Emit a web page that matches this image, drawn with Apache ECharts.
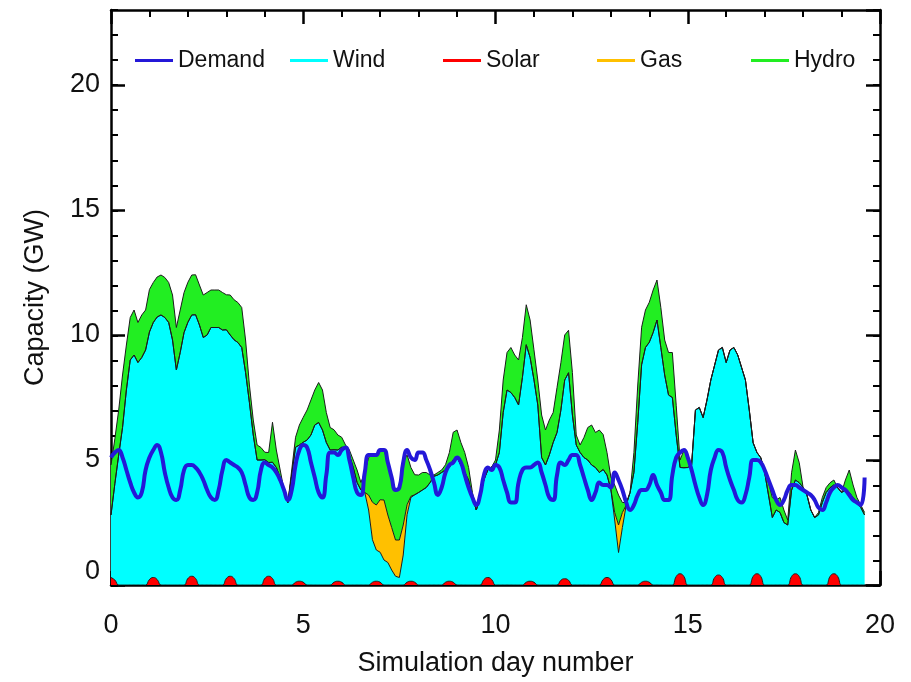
<!DOCTYPE html>
<html>
<head>
<meta charset="utf-8">
<script src="https://cdn.jsdelivr.net/npm/echarts@6/dist/echarts.min.js"></script>
<style>
  html, body { margin: 0; padding: 0; background: #fff; }
  #chart { width: 911px; height: 682px; }
</style>
</head>
<body>
<div id="chart"></div>
<script>
// samples every 0.1 simulation day, 0 .. 19.6
var demand = [
  5.1,5.3,5.4,5.1,4.6,4.1,3.7,3.5,3.7,4.6,
  5.1,5.4,5.6,5.3,4.5,3.9,3.5,3.4,3.8,4.6,
  4.8,4.8,4.7,4.5,4.2,3.8,3.5,3.4,3.8,4.6,
  5.0,4.9,4.8,4.7,4.5,4.0,3.5,3.4,3.7,4.6,
  4.9,4.8,4.7,4.5,4.2,3.8,3.4,3.8,4.8,5.4,
  5.6,5.5,4.9,4.3,3.7,3.5,4.4,5.3,5.3,5.2,
  5.4,5.5,5.0,4.3,3.7,3.6,4.5,5.2,5.2,5.2,
  5.4,5.4,4.9,4.3,3.8,3.9,4.9,5.4,5.1,5.0,
  5.3,5.3,5.0,4.6,4.1,3.6,3.9,4.5,4.8,4.9,
  5.1,4.9,4.4,3.9,3.5,3.2,3.6,4.4,4.7,4.6,
  4.8,4.7,4.2,3.7,3.3,3.3,4.1,4.6,4.7,4.7,
  4.8,4.9,4.5,4.0,3.5,3.4,4.4,4.9,4.8,5.0,
  5.2,5.2,4.8,4.3,3.8,3.4,3.7,4.1,4.0,4.0,
  3.9,4.5,4.2,3.8,3.3,3.0,3.2,3.6,3.8,3.8,
  4.0,4.4,4.0,3.7,3.4,3.4,4.4,5.1,5.3,5.4,
  5.1,4.6,4.0,3.5,3.2,3.6,4.6,5.1,5.4,5.3,
  4.7,4.2,3.8,3.4,3.3,3.6,4.3,5.0,5.0,4.9,
  4.6,4.2,3.8,3.4,3.2,3.4,3.8,4.0,4.0,3.9,
  3.8,3.7,3.6,3.4,3.1,3.0,3.3,3.7,3.9,4.0,
  3.9,3.8,3.6,3.4,3.3,3.2,4.3
];

var solar = [
  .3,.2,0,0,0,0,0,0,0,0,
  .22,.3,.22,0,0,0,0,0,0,0,
  .26,.35,.26,0,0,0,0,0,0,0,
  .26,.35,.26,0,0,0,0,0,0,0,
  .26,.35,.26,0,0,0,0,0,.11,.15,
  .11,0,0,0,0,0,0,0,.11,.15,
  .11,0,0,0,0,0,0,0,.11,.15,
  .11,0,0,0,0,0,0,.11,.15,.11,
  0,0,0,0,0,0,0,.11,.15,.11,
  0,0,0,0,0,0,0,.22,.3,.22,
  0,0,0,0,0,0,0,0,.11,.15,
  .11,0,0,0,0,0,0,.19,.25,.19,
  0,0,0,0,0,0,0,0,.22,.3,
  .22,0,0,0,0,0,0,0,.11,.15,
  .11,0,0,0,0,0,0,.34,.45,.34,
  0,0,0,0,0,0,0,.3,.4,.3,
  0,0,0,0,0,0,0,.34,.45,.34,
  0,0,0,0,0,0,0,.34,.45,.34,
  0,0,0,0,0,0,0,.34,.45,.34,
  0,0,0,0,0,0,0
];

var wind = [
  2.5,3.85,5.2,6.3,7.8,9.0,9.2,8.9,9.1,9.4,
  9.9,10.2,10.5,10.8,10.7,10.5,9.8,8.6,9.3,10.1,
  10.25,10.45,10.55,10.4,9.9,10.0,10.3,10.3,10.3,10.2,
  9.95,9.65,9.55,9.7,9.5,8.5,7.3,6.0,5.0,5.0,
  4.75,4.55,4.65,4.7,4.3,3.8,3.3,4.4,5.4,5.45,
  5.6,5.8,6.0,6.4,6.5,6.2,5.7,5.4,5.3,5.25,
  5.4,5.5,5.2,4.7,4.1,3.8,3.7,3.0,1.7,1.25,
  1.2,1.0,0.9,0.6,0.35,0.3,1.2,2.7,3.35,3.5,
  3.7,3.8,3.9,4.1,4.35,4.4,4.5,4.5,4.55,4.9,
  5.1,4.8,4.5,4.2,3.5,3.0,3.5,4.0,4.3,4.5,
  4.8,5.3,6.9,7.8,7.7,7.5,7.2,8.3,9.5,8.95,
  8.1,7.2,5.1,4.8,5.2,5.7,6.1,6.8,7.95,8.3,
  6.8,5.6,5.3,5.1,5.0,4.8,4.7,4.5,4.4,4.1,
  3.6,2.6,1.3,2.3,3.2,3.7,4.5,6.5,8.7,9.35,
  9.6,10.1,10.6,9.5,8.4,7.6,7.5,5.65,4.25,4.35,
  4.7,4.8,7.0,7.1,6.7,7.4,8.2,8.5,9.0,9.2,
  8.9,9.4,9.5,9.2,8.7,8.2,7.0,5.35,4.85,4.75,
  4.5,3.6,2.7,3.0,2.9,2.5,2.4,3.45,3.75,3.75,
  3.9,3.6,3.0,2.7,2.8,3.3,3.7,3.55,3.55,3.55,
  3.7,3.8,3.7,3.5,3.3,3.1,2.8
];

var gas = [
  0,0,0,0,0,0,0,0,0,0,
  0,0,0,0,0,0,0,0,0,0,
  0,0,0,0,0,0,0,0,0,0,
  0,0,0,0,0,0,0,0,0,0,
  0,0,0,0,0,0,0,0,0,0,
  0,0,0,0,0,0,0,0,0,0,
  0,0,0,0,0,0,0,0.6,1.5,1.8,
  2.1,2.4,1.9,1.7,1.45,1.5,1.2,0.4,0.05,0,
  0,0,0,0,0,0,0,0,0,0,
  0,0,0,0,0,0,0,0,0,0,
  0,0,0,0,0,0,0,0,0,0,
  0,0,0,0,0,0,0,0,0,0,
  0,0,0,0,0,0,0,0,0,0,
  0,0.3,1.1,0.6,0,0,0,0,0,0,
  0,0,0,0,0,0,0,0,0,0,
  0,0,0,0,0,0,0,0,0,0,
  0,0,0,0,0,0,0,0,0,0,
  0,0,0,0,0,0,0,0,0,0,
  0,0,0,0,0,0,0,0,0,0,
  0,0,0,0,0,0,0
];

var hydro = [
  2.0,1.8,1.8,2.1,1.8,1.7,1.8,1.6,1.7,1.6,
  1.7,1.6,1.6,1.6,1.6,1.6,1.8,1.7,1.7,1.6,
  1.6,1.6,1.6,1.6,1.7,1.7,1.5,1.5,1.5,1.5,
  1.4,1.6,1.6,1.6,1.6,1.3,0.7,0.6,0.6,0.5,
  0.3,0.4,1.6,0.7,0.3,0,0,0.2,0.4,0.8,
  1.0,1.2,1.4,1.4,1.6,1.6,1.2,0.9,0.8,0.6,
  0.4,0.1,0.2,0.3,0.5,0.3,0.8,1.5,1.9,2.0,
  2.0,2.0,2.1,2.0,2.0,2.1,2.5,2.0,1.15,0.8,
  0.7,0.7,0.6,0.3,0.05,0.1,0.1,0.2,0.6,1.1,
  1.1,0.9,0.8,0.5,0.2,0,0,0,0,0,
  0.2,0.9,1.3,1.5,1.8,1.7,1.8,1.6,1.6,1.5,
  1.2,1.0,1.7,1.4,1.4,1.2,1.8,1.9,1.8,1.7,
  1.7,0.4,0.3,0.8,1.3,1.6,1.4,1.7,1.4,0.9,
  0.5,1.1,1.2,0.4,0.1,0,0.8,1.5,1.5,1.5,
  1.6,1.7,1.6,1.6,1.4,1.7,1.8,1.2,0.3,0.7,
  0.4,0,0,0,0,0,0,0,0,0,
  0,0,0,0,0,0,0,0,0,0,
  0.1,0.5,0.8,0.4,0.6,0.5,0.2,0.7,1.2,0.8,
  0,0,0,0,0.1,0.2,0.2,0.2,0.2,0,
  0,0.4,0.9,0.5,0.2,0.1,0.1
];

var days = demand.map(function (v, i) { return i / 10; });
var legendNames = ['Demand', 'Wind', 'Solar', 'Gas', 'Hydro'];
var yTicks = [0, 5, 10, 15, 20];

var chart = echarts.init(document.getElementById('chart'));
var font = 'Liberation Sans, Arial, Helvetica, sans-serif';

// value first, day second, so the stack adds up the values and not the days
function rows(values) {
    return days.map(function (d, i) { return [values[i], d]; });
}

function supply(name, values, color, z, smooth) {
    return {
        name: name,
        type: 'line',
        stack: 'supply',
        data: rows(values),
        encode: { x: 1, y: 0 },
        symbol: 'none',
        smooth: smooth,
        z: z,
        itemStyle: { color: color },
        lineStyle: { width: 1, color: '#1c1c1c' },
        areaStyle: { color: color, opacity: 1 }
    };
}

var colors = {
    Demand: '#2418d8', Wind: '#00ffff', Solar: '#ff0000', Gas: '#ffc000', Hydro: '#22ee22'
};

var border = { show: true, onZero: false, lineStyle: { color: '#000', width: 2.5 } };
var majorTick = { show: true, inside: true, length: 14, lineStyle: { color: '#000', width: 2.5 } };
var minorTickX = { show: true, splitNumber: 5, length: 7, lineStyle: { color: '#000', width: 2 } };
var minorTickY = { show: true, inside: true, length: 7, lineStyle: { color: '#000', width: 2 } };

var legendLeft = [130, 285, 438, 592, 746];

option = {
    animation: false,
    backgroundColor: '#fff',
    grid: [
        { left: 111, right: 31, top: 10, bottom: 96 },
        { left: 111, right: 31, top: 10, bottom: 96 }
    ],
    legend: legendNames.map(function (n, i) {
        return {
            data: [{ name: n, itemStyle: { color: colors[n], borderWidth: 0 } }],
            left: legendLeft[i],
            top: 44,
            icon: 'rect',
            itemWidth: 38,
            itemHeight: 3,
            selectedMode: false,
            textStyle: { fontSize: 23, color: '#111', fontFamily: font }
        };
    }),
    xAxis: [
        {
            type: 'value', gridIndex: 0, position: 'bottom',
            min: 0, max: 20, interval: 5,
            axisLine: border, axisTick: majorTick, minorTick: minorTickX,
            splitLine: { show: false },
            axisLabel: { margin: 27, fontSize: 27, color: '#111', fontFamily: font },
            name: 'Simulation day number',
            nameLocation: 'middle',
            nameGap: 65,
            nameTextStyle: { fontSize: 27, color: '#111', fontFamily: font }
        },
        {
            type: 'value', gridIndex: 0, position: 'top',
            min: 0, max: 20, interval: 5,
            axisLine: border, axisTick: majorTick, minorTick: minorTickX,
            splitLine: { show: false },
            axisLabel: { show: false }
        },
        {
            type: 'value', gridIndex: 1, min: 0, max: 20, show: false
        }
    ],
    yAxis: [
        {
            type: 'value', gridIndex: 0, position: 'left',
            min: 0, max: 23, interval: 5,
            axisLine: border, axisTick: majorTick,
            splitLine: { show: false },
            axisLabel: {
                margin: 11, fontSize: 27, color: '#111', fontFamily: font,
                padding: [6, 0, 0, 0],
                showMaxLabel: false,
                verticalAlignMinLabel: 'bottom',
                formatter: function (v) { return yTicks.indexOf(v) >= 0 ? String(v) : ''; }
            },
            name: 'Capacity (GW)',
            nameLocation: 'middle',
            nameGap: 62,
            nameTextStyle: { fontSize: 27, color: '#111', fontFamily: font }
        },
        {
            type: 'value', gridIndex: 0, position: 'right',
            min: 0, max: 23, interval: 5,
            axisLine: border, axisTick: majorTick,
            splitLine: { show: false },
            axisLabel: { show: false }
        },
        {
            type: 'value', gridIndex: 1, position: 'left',
            min: 0, max: 23, interval: 1,
            axisLine: { show: false }, axisTick: minorTickY,
            splitLine: { show: false }, axisLabel: { show: false }
        },
        {
            type: 'value', gridIndex: 1, position: 'right',
            min: 0, max: 23, interval: 1,
            axisLine: { show: false }, axisTick: minorTickY,
            splitLine: { show: false }, axisLabel: { show: false }
        }
    ],
    series: [
        supply('Solar', solar, colors.Solar, 3, true),
        supply('Wind', wind, colors.Wind, 2, false),
        supply('Gas', gas, colors.Gas, 2, false),
        supply('Hydro', hydro, colors.Hydro, 2, false),
        {
            name: 'Demand',
            type: 'line',
            data: days.map(function (d, i) { return [d, demand[i]]; }),
            symbol: 'none',
            smooth: true,
            z: 5,
            itemStyle: { color: colors.Demand },
            lineStyle: { width: 4, color: colors.Demand }
        }
    ]
};

chart.setOption(option);
</script>
</body>
</html>
